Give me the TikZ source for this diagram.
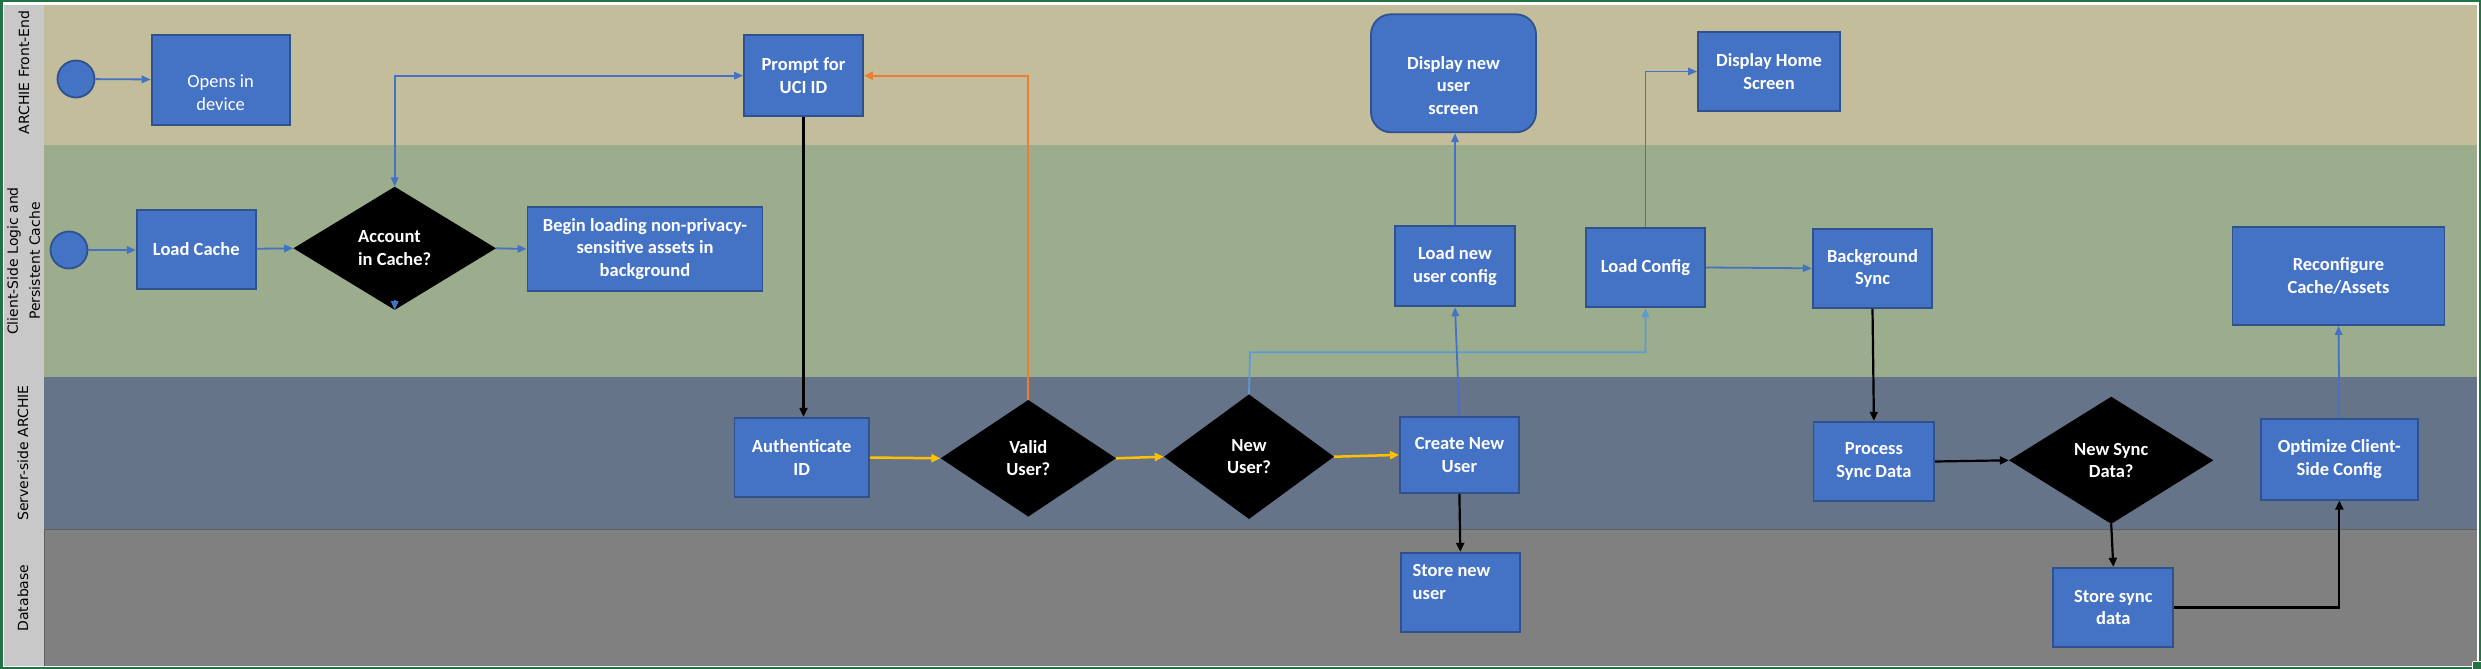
\documentclass[tikz,border=0pt]{standalone}
\usepackage{fontspec}
\newfontfamily\calib{Carlito}
\newfontfamily\tah{DejaVu Sans}
\usetikzlibrary{shapes.geometric,arrows.meta,calc}
\definecolor{tanlane}{RGB}{196,189,155}
\definecolor{greenlane}{RGB}{155,173,140}
\definecolor{slatelane}{RGB}{102,116,138}
\definecolor{dblane}{RGB}{128,128,128}
\definecolor{lblgray}{RGB}{200,200,200}
\definecolor{xlgreen}{RGB}{33,115,70}
\definecolor{boxblue}{RGB}{68,114,196}
\definecolor{boxborder}{RGB}{47,82,143}
\definecolor{arrblue}{RGB}{68,114,196}
\definecolor{lightarr}{RGB}{91,155,213}
\definecolor{orangearr}{RGB}{237,125,49}
\definecolor{goldarr}{RGB}{255,192,0}
\definecolor{laneline}{RGB}{95,95,95}
\newcommand\boxfnt{\calib\bfseries\fontsize{18.5}{22.5}\selectfont}
\newcommand\boxfntreg{\calib\fontsize{18.5}{22.8}\selectfont}
\newcommand\lanefnt{\tah\fontsize{14}{22}\selectfont}
\tikzset{tipb/.tip={Triangle[length=9pt,width=7.5pt]},
         tipk/.tip={Triangle[length=9pt,width=8pt]}}
\begin{document}
\begin{tikzpicture}[x=1pt,y=-1pt,
  box/.style={draw=boxborder, fill=boxblue, line width=1.8pt, inner sep=0pt, text=white, font=\boxfnt, align=center},
  boxtext/.style={inner sep=0pt, text=white, font=\boxfnt},
  dia/.style={diamond, fill=black, inner sep=0pt, text=white, font=\boxfnt},
  startev/.style={circle, draw=boxborder, fill=boxblue, line width=1.8pt, inner sep=0pt, minimum size=37pt},
  lanelbl/.style={rotate=90, inner sep=0pt, text=black, font=\lanefnt, align=center},
  bluearr/.style={draw=arrblue, line width=1.8pt, -{tipb}},
  lbluearr/.style={draw=lightarr, line width=1.8pt, -{tipb}},
  blackarr/.style={draw=black, line width=2.2pt, -{tipk}},
  orangearrow/.style={draw=orangearr, line width=2pt, -{tipk}},
  goldarrow/.style={draw=goldarr, line width=2.5pt, -{tipk}}
]
\useasboundingbox (0,0) rectangle (2481,669);
% background and lanes
\fill[white] (0,0) rectangle (2481,669);
\fill[lblgray] (4,5) rectangle (44.3,666);
\fill[tanlane] (44.3,5) rectangle (2477.3,145);
\fill[greenlane] (44.3,145) rectangle (2477.3,377);
\fill[slatelane] (44.3,377) rectangle (2477.3,529);
\fill[dblane] (44.3,529) rectangle (2477.3,666);
\draw[laneline, line width=0.8pt] (44.3,529) -- (2477.3,529);
\draw[laneline, line width=0.8pt] (44.3,529) -- (44.3,666);
\draw[xlgreen, line width=2.5pt] (1.25,1.25) rectangle (2479.75,667.75);
\fill[xlgreen] (2473,662) rectangle (2481,669);
\draw[white, line width=0.8pt] (2472.6,661.6) -- (2472.6,669);
\draw[white, line width=0.8pt] (2472.6,661.6) -- (2481,661.6);

% lane labels
\node[lanelbl] (l1) at (24,72.5) {ARCHIE Front-End};
\node[lanelbl] (l2) at (23.7,261) {Client-Side Logic and\\Persistent Cache};
\node[lanelbl] (l3) at (23,453) {Server-side ARCHIE};
\node[lanelbl] (l4) at (23,598) {Database};

% start events
\node[startev] (c1) at (76,79) {};
\node[startev] (c2) at (69,250) {};

% boxes
\node[box, minimum width=138pt, minimum height=90pt] (opens) at (220.6,79.9) {};
\node[boxtext, font=\boxfntreg, align=center] (openst) at (220.6,92.3) {Opens in\\device};
\node[box, minimum width=119pt, minimum height=79pt] (loadcache) at (196.3,249.5) {Load Cache};
\node[box, minimum width=235pt, minimum height=84.5pt] (begin) at (645,249) {Begin loading non-privacy-\\sensitive assets in\\background};
\node[box, minimum width=119pt, minimum height=80.7pt] (prompt) at (803.5,75.7) {Prompt for\\UCI ID};
\node[box, minimum width=134.5pt, minimum height=79.6pt] (auth) at (801.7,457.5) {Authenticate\\ID};
\node[box, minimum width=119pt, minimum height=76.3pt] (create) at (1459.4,454.9) {Create New\\User};
\node[box, minimum width=119.4pt, minimum height=79.6pt] (storenew) at (1460.3,592.5) {};
\node[boxtext, align=left, anchor=west] (storenewt) at (1412.5,582) {Store new\\user};
\node[box, rounded corners=20pt, minimum width=165pt, minimum height=118pt] (dispnew) at (1453.5,73.3) {};
\node[boxtext, align=center] (dispnewt) at (1453.5,85.5) {Display new\\user\\screen};
\node[box, minimum width=120pt, minimum height=80pt] (loadnew) at (1455,266.3) {Load new\\user config};
\node[box, minimum width=119pt, minimum height=79.6pt] (lc) at (1645.5,267.5) {Load Config};
\node[box, minimum width=142pt, minimum height=79.6pt] (home) at (1769,71.5) {Display Home\\Screen};
\node[box, minimum width=119.6pt, minimum height=79.3pt] (bgsync) at (1872.5,268.3) {Background\\Sync};
\node[box, minimum width=212pt, minimum height=98.3pt] (reconfig) at (2338.5,275.8) {Reconfigure\\Cache/Assets};
\node[box, minimum width=120.8pt, minimum height=79.6pt] (process) at (1873.9,461.5) {Process\\Sync Data};
\node[box, minimum width=120pt, minimum height=79.6pt] (storesync) at (2113.3,607.5) {Store sync\\data};
\node[box, minimum width=157.4pt, minimum height=81pt] (optimize) at (2339.3,459.2) {Optimize Client-\\Side Config};

% decisions
\node[dia, align=left, minimum width=202.6pt, minimum height=123.3pt] (acc) at (394.7,248.3) {Account\\in Cache?};
\node[dia, align=center, minimum width=175.3pt, minimum height=116.7pt] (valid) at (1028.3,458.3) {Valid\\User?};
\node[dia, align=center, minimum width=170pt, minimum height=124.7pt] (nu) at (1249,456.7) {New\\User?};
\node[dia, align=center, minimum width=204.4pt, minimum height=127.3pt] (newsync) at (2111.2,460.3) {New Sync\\Data?};

\coordinate (nujog) at (1250,352.3);

% connectors
\draw[bluearr] (c1) -- (opens);
\draw[bluearr] (c2) -- (c2 -| loadcache.west);
\draw[bluearr] (loadcache) -- (acc.west);
\draw[bluearr] (acc.east) -- (begin.west);
\draw[draw=arrblue, line width=1.8pt, {tipb}-{tipb}] (acc.north) |- (prompt.west);
\draw[draw=arrblue, line width=1.8pt, -{tipb}] ([yshift=10pt]acc.south) -- (acc.south);
\draw[blackarr] (prompt.south) -- (prompt.south |- auth.north);
\draw[goldarrow] (auth.east) -- (valid.west);
\draw[orangearrow] (valid.north) |- (prompt.east);
\draw[goldarrow] (valid.east) -- (nu.west);
\draw[lbluearr] (nu.north) -- (nujog) -| (lc.south);
\draw[goldarrow] (nu.east) -- (create.west);
\draw[bluearr] (create.north) -- (loadnew.south);
\draw[bluearr] (loadnew.north) -- (loadnew.north |- dispnew.south);
\draw[bluearr] (lc.north) |- (home.west);
\draw[bluearr] (lc.east) -- (bgsync.west);
\draw[blackarr] (create.south) -- (storenew.north);
\draw[blackarr] (bgsync.south) -- (process.north);
\draw[blackarr] (process.east) -- (newsync.west);
\draw[blackarr] (newsync.south) -- (storesync.north);
\draw[blackarr] (storesync.east) -| (optimize.south);
\draw[bluearr] (optimize.north) -- (reconfig.south);
\end{tikzpicture}
\end{document}
